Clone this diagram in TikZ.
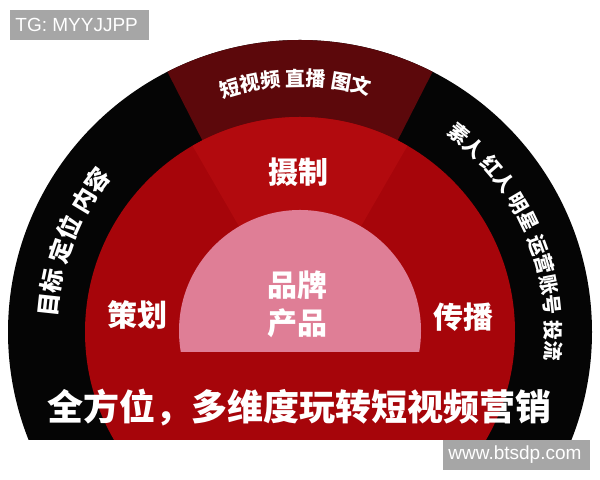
\documentclass[tikz,border=0pt]{standalone}
\usepackage{fontspec}
\setmainfont{Liberation Sans}
\newfontfamily\cjkfont{Noto Sans CJK SC}
\usetikzlibrary{decorations.text}

\definecolor{ringblack}{HTML}{050505}
\definecolor{topred}{HTML}{5C080B}
\definecolor{midred}{HTML}{A6050A}
\definecolor{litred}{HTML}{B20A0E}
\definecolor{pinkcore}{HTML}{DF7E96}
\definecolor{markgray}{HTML}{A6A6A6}

\begin{document}
\begin{tikzpicture}[x=0.5pt,y=0.5pt]
    \tikzstyle{label}=[text=white, inner sep=0pt, font=\cjkfont\bfseries\fontsize{15}{19}\selectfont]
    \tikzstyle{slogan}=[text=white, inner sep=0pt, font=\cjkfont\bfseries\fontsize{18}{20}\selectfont]
    \tikzstyle{wmtext}=[text=white, inner sep=0pt, anchor=base west, font=\fontsize{9.5}{11}\selectfont]
    \tikzstyle{ringtext}=[decorate, decoration={text along path, text align=center, text={#1}}]

    \useasboundingbox (0,0) rectangle (600,480);

    % rings
    \begin{scope}
      \clip (0,40) rectangle (600,480);
      \fill[ringblack] (300,148) circle (292);
      \fill[topred] (300,148) -- ++(117:292) arc (117:63:292) -- cycle;
      \fill[midred] (300,148) circle (215);
      \fill[litred] (300,148) -- ++(120:215) arc (120:60:215) -- cycle;
    \end{scope}
    \begin{scope}
      \clip (0,128) rectangle (600,480);
      \fill[pinkcore] (300,149) circle (121);
    \end{scope}

    % outer ring words
    \path[ringtext={|\cjkfont\bfseries\fontsize{10}{12}\selectfont\color{white}|短视频 直播 图文}]
      (300,148) ++(118:246) arc (118:64:246);
    \path[ringtext={|\cjkfont\bfseries\fontsize{12}{14}\selectfont\color{white}|目标 定位 内容}]
      (300,148) ++(200:244) arc (200:117:244);
    \path[ringtext={|\cjkfont\bfseries\fontsize{10}{12}\selectfont\color{white}|素人 红人 明星 运营账号 投流}]
      (300,148) ++(62:246) arc (62:-15:246);

    \node[label] (shezhi) at (298,308) {摄制};
    \node[label, align=center] (pinpai) at (297,176) {品牌\\产品};
    \node[label] (cehua) at (137,165) {策划};
    \node[label] (chuanbo) at (463,163) {传播};
    \node[slogan] (slogan) at (299,72) {全方位，多维度玩转短视频营销};

    % watermarks
    \fill[markgray] (10,440) rectangle (149,470);
    \node[wmtext] (tgmark) at (15,448) {TG: MYYJJPP};
    \fill[markgray] (443,10) rectangle (590,40);
    \node[wmtext] (sitemark) at (448,20) {www.btsdp.com};
\end{tikzpicture}
\end{document}
